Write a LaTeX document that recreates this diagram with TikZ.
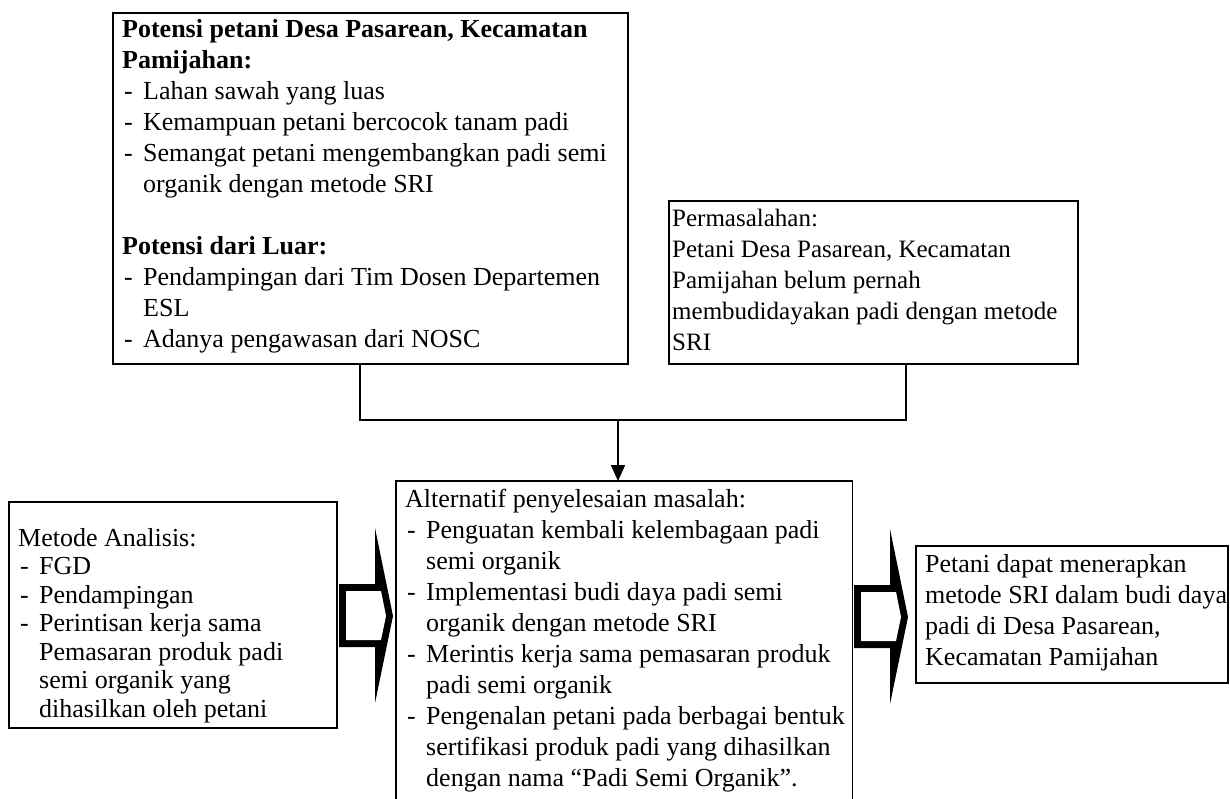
\documentclass[tikz,border=0pt]{standalone}
\usepackage{fontspec}
\setmainfont{Liberation Serif}
\usetikzlibrary{positioning,calc,arrows.meta}

\newcommand{\itm}{\makebox[21pt][l]{\hspace{2pt}-}}
\newcommand{\ind}{\hspace*{21pt}}
% block arrow, drawn from its tip
\newcommand{\blockarrow}[1]{%
  \begin{scope}[shift={(#1)}]
    \fill[black] (-54,-32) -- (-18,-32) -- (-18,-88) -- (0,0) -- (-18,87) -- (-18,31) -- (-54,31) -- cycle;
    \fill[white] (-47,-25) -- (-12,-25) -- (-7,0) -- (-12,24) -- (-47,24) -- cycle;
  \end{scope}}

\begin{document}
\begin{tikzpicture}[x=1pt, y=-1pt,
    box/.style={draw=black, line width=1.8pt, anchor=north west, inner sep=0pt},
    txt/.style={align=left, inner xsep=10pt, inner ysep=0pt, font=\fontsize{26}{31}\selectfont},
    line/.style={line width=1.8pt},
    arrow/.style={-{Triangle[length=16pt, width=14pt]}, line width=1.8pt},
]
\useasboundingbox (0,0) rectangle (1230,798);

% Boxes
\node (potensi) [box, minimum width=515pt, minimum height=351pt] at (112,12) {};
\node (masalah) [box, minimum width=409pt, minimum height=163pt] at (668,200) {};
\node (metode) [box, minimum width=328pt, minimum height=226pt] at (8,501) {};
\node (alternatif) [anchor=north west, inner sep=0pt, minimum width=456pt, minimum height=322pt] at (396,481) {};
\node (hasil) [box, minimum width=312pt, minimum height=137pt] at (915,545) {};

% Texts
\node (potensitxt) [txt, below right=7pt and 0pt of potensi.north west, anchor=north west] {
\textbf{Potensi petani Desa Pasarean, Kecamatan}\\
\textbf{Pamijahan:}\\
\itm Lahan sawah yang luas\\
\itm Kemampuan petani bercocok tanam padi\\
\itm Semangat petani mengembangkan padi semi\\
\ind organik dengan metode SRI\\[31pt]
\textbf{Potensi dari Luar:}\\
\itm Pendampingan dari Tim Dosen Departemen\\
\ind ESL\\
\itm Adanya pengawasan dari NOSC
};

\node (masalahtxt) [txt, inner xsep=4pt, font=\fontsize{25}{31}\selectfont, below right=9pt and 0pt of masalah.north west, anchor=north west] {
Permasalahan:\\
Petani Desa Pasarean, Kecamatan\\
Pamijahan belum pernah\\
membudidayakan padi dengan metode\\
SRI
};

\node (metodetxt) [txt, font=\fontsize{26}{28.5}\selectfont, below right=27pt and 0pt of metode.north west, anchor=north west] {
Metode Analisis:\\
\itm FGD\\
\itm Pendampingan\\
\itm Perintisan kerja sama\\
\ind Pemasaran produk padi\\
\ind semi organik yang\\
\ind dihasilkan oleh petani
};

\node (alternatiftxt) [txt, inner xsep=9pt, below right=8pt and 0pt of alternatif.north west, anchor=north west] {
Alternatif penyelesaian masalah:\\
\itm Penguatan kembali kelembagaan padi\\
\ind semi organik\\
\itm Implementasi budi daya padi semi\\
\ind organik dengan metode SRI\\
\itm Merintis kerja sama pemasaran produk\\
\ind padi semi organik\\
\itm Pengenalan petani pada berbagai bentuk\\
\ind sertifikasi produk padi yang dihasilkan\\
\ind dengan nama “Padi Semi Organik”.
};

\node (hasiltxt) [txt, below right=9pt and 0pt of hasil.north west, anchor=north west] {
Petani dapat menerapkan\\
metode SRI dalam budi daya\\
padi di Desa Pasarean,\\
Kecamatan Pamijahan
};

% Open box (runs off the page)
\draw[line] (alternatif.south west) -- (alternatif.north west) -- (alternatif.north east) -- (alternatif.south east);

% Connectors
\coordinate (join) at (618,420);
\draw[line] ($(potensi.south west)+(248,0)$) |- (join) -| ($(masalah.south west)+(238,0)$);
\draw[arrow] (join) -- (join |- alternatif.north);

% Block arrows
\coordinate (tipA) at ($(alternatif.north west)+(-3,135)$);
\coordinate (tipB) at ($(hasil.north west)+(-7,72)$);
\blockarrow{tipA}
\blockarrow{tipB}

\end{tikzpicture}
\end{document}
